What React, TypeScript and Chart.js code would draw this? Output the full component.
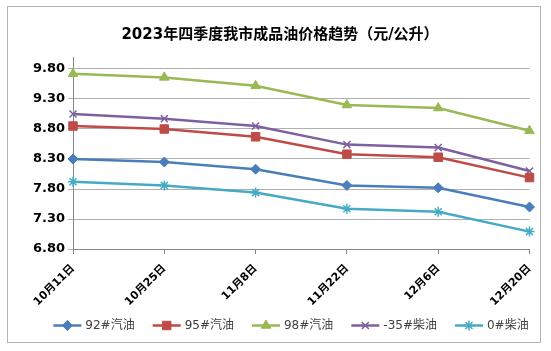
import React, { useEffect, useRef } from 'react';
import { Chart, registerables } from 'chart.js';
import { drawPoint } from 'chart.js/helpers';

Chart.register(...registerables);

const titleText = '2023年四季度我市成品油价格趋势（元/公升）';
const categories = ['10月11日', '10月25日', '11月8日', '11月22日', '12月6日', '12月20日'];
const seriesNames = ['92#汽油', '95#汽油', '98#汽油', '-35#柴油', '0#柴油'];
const gas92 = [8.30, 8.25, 8.13, 7.86, 7.82, 7.50];
const gas95 = [8.85, 8.80, 8.67, 8.38, 8.33, 7.99];
const gas98 = [9.72, 9.66, 9.52, 9.20, 9.15, 8.77];
const diesel35 = [9.05, 8.97, 8.85, 8.54, 8.49, 8.10];
const diesel0 = [7.92, 7.86, 7.74, 7.47, 7.42, 7.09];
const yTicks = [6.8, 7.3, 7.8, 8.3, 8.8, 9.3, 9.8];
const yMin = 6.8;
const yMax = 10.0;

const seriesValues = [gas92, gas95, gas98, diesel35, diesel0];
const colors = ['#4a7ebb', '#be4b48', '#98b954', '#7d60a0', '#46aac5'];
const markers = ['rectRot', 'rect', 'triangle', 'crossRot', 'star'];
const markerRadius = [5, 6, 5.5, 5, 5];

const FONT = '"DejaVu Sans", "Noto Sans CJK SC", sans-serif';

const borderPlugin = {
  id: 'outerBorder',
  beforeDraw(chart: any) {
    const ctx = chart.ctx;
    ctx.save();
    ctx.fillStyle = '#ffffff';
    ctx.fillRect(0, 0, chart.width, chart.height);
    ctx.strokeStyle = '#b4b4b4';
    ctx.lineWidth = 1;
    ctx.strokeRect(7.5, 6.5, 533, 336);
    ctx.restore();
  },
};

const legendPlugin = {
  id: 'lineLegend',
  afterDraw(chart: any) {
    const ctx = chart.ctx;
    ctx.save();
    ctx.font = '12px ' + FONT;
    const lineLen = 28;
    const textGap = 4;
    const itemGap = 18;
    const dss = chart.data.datasets;
    const widths = dss.map((d: any) => ctx.measureText(d.label).width);
    let total = 0;
    widths.forEach((w: number) => (total += lineLen + textGap + w));
    total += itemGap * (dss.length - 1);
    let x = 291 - total / 2;
    const y = 325.5;
    dss.forEach((d: any, i: number) => {
      ctx.strokeStyle = d.borderColor;
      ctx.fillStyle = d.borderColor;
      ctx.lineWidth = 2.5;
      ctx.beginPath();
      ctx.moveTo(x, y);
      ctx.lineTo(x + lineLen, y);
      ctx.stroke();
      ctx.lineWidth = d.pointBorderWidth;
      drawPoint(ctx, { pointStyle: d.pointStyle, radius: d.pointRadius, rotation: 0, borderWidth: d.pointBorderWidth }, x + lineLen / 2, y);
      ctx.fillStyle = '#404040';
      ctx.textAlign = 'left';
      ctx.textBaseline = 'middle';
      ctx.fillText(d.label, x + lineLen + textGap, y);
      x += lineLen + textGap + widths[i] + itemGap;
    });
    ctx.restore();
  },
};

export default function App() {
  const ref = useRef<HTMLCanvasElement | null>(null);
  useEffect(() => {
    if (!ref.current) return;
    const chart = new Chart(ref.current, {
      type: 'line',
      data: {
        labels: categories,
        datasets: seriesNames.map((name, i) => ({
          label: name,
          data: seriesValues[i],
          borderColor: colors[i],
          backgroundColor: colors[i],
          pointBackgroundColor: colors[i],
          pointBorderColor: colors[i],
          pointStyle: markers[i] as any,
          pointRadius: markerRadius[i],
          pointBorderWidth: i >= 3 ? 1.5 : 1,
          borderWidth: 2.5,
          tension: 0,
          fill: false,
        })),
      },
      options: {
        responsive: false,
        animation: false,
        layout: { padding: { left: 30.5, right: 21.5, top: 0, bottom: 0 } },
        plugins: {
          legend: { display: false },
          tooltip: { enabled: false },
          title: {
            display: true,
            text: titleText,
            color: '#000000',
            font: { size: 15, weight: 'bold', family: FONT },
            padding: { top: 26, bottom: 13 },
          },
        },
        scales: {
          x: {
            grid: { drawOnChartArea: false, drawTicks: true, tickLength: 5, color: '#868686' },
            border: { color: '#868686' },
            ticks: {
              autoSkip: false,
              minRotation: 45,
              maxRotation: 45,
              color: '#000000',
              padding: 8,
              font: { size: 11, weight: 'bold', family: FONT },
            },
            afterFit: (s: any) => {
              s.height = 102;
            },
          },
          y: {
            min: yMin,
            max: yMax,
            afterBuildTicks: (s: any) => {
              s.ticks = yTicks.map((v) => ({ value: v }));
            },
            grid: { color: '#b0b0b0', tickLength: 5 },
            border: { color: '#868686' },
            ticks: {
              color: '#000000',
              padding: 3,
              font: { size: 13, weight: 'bold', family: FONT },
              callback: (v: any) => Number(v).toFixed(2),
            },
            afterFit: (s: any) => {
              s.width = 42.5;
            },
          },
        },
      },
      plugins: [borderPlugin, legendPlugin],
    });
    return () => chart.destroy();
  }, []);
  return (
    <div style={{ position: 'absolute', left: 0, top: 0, width: 551, height: 351 }}>
      <canvas ref={ref} width={551} height={351} style={{ display: 'block' }} />
    </div>
  );
}
